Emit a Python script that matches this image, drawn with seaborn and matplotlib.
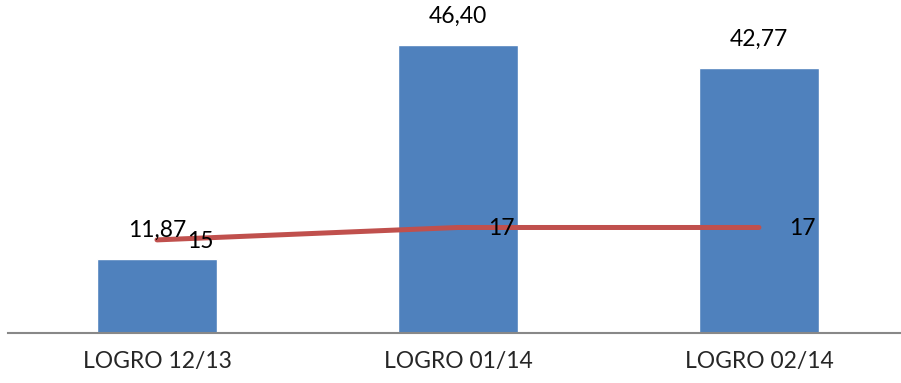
import matplotlib
matplotlib.use("Agg")
import matplotlib.pyplot as plt
import seaborn as sns
import pandas as pd

categories = ["LOGRO 12/13", "LOGRO 01/14", "LOGRO 02/14"]
logro = [11.87, 46.40, 42.77]
meta = [15, 17, 17]
logro_labels = ["11,87", "46,40", "42,77"]
meta_labels = ["15", "17", "17"]

sns.set_theme(style="white")
plt.rcParams["font.family"] = ["Lato", "DejaVu Sans"]

df = pd.DataFrame({"cat": categories, "logro": logro, "meta": meta, "pos": range(len(categories))})

fig = plt.figure(figsize=(9.01, 3.83), dpi=100)
ax = fig.add_axes([8 / 901, 50 / 383, 893 / 901, 333 / 383])

sns.barplot(data=df, x="cat", y="logro", color="#4F81BD", saturation=1, width=0.4, ax=ax, zorder=2)
sns.lineplot(data=df, x="pos", y="meta", color="#C0504D", linewidth=3.6, ax=ax, zorder=3,
             solid_capstyle="round")

for i, (v, t) in enumerate(zip(logro, logro_labels)):
    ax.annotate(t, (i, v), xytext=(0, 13), textcoords="offset points",
                ha="center", va="bottom", fontsize=16.5, color="black")
for i, (v, t) in enumerate(zip(meta, meta_labels)):
    ax.annotate(t, (i, v), xytext=(22, -1), textcoords="offset points",
                ha="left", va="center", fontsize=16.5, color="black", zorder=4)

ax.set_xlim(-0.495, 2.472)
ax.set_ylim(0, 53.65)
ax.set_xlabel("")
ax.set_ylabel("")
ax.set_yticks([])
ax.tick_params(axis="x", length=0, labelsize=16.5, pad=13)
for s in ["top", "right", "left"]:
    ax.spines[s].set_visible(False)
ax.spines["bottom"].set_color("#888888")
ax.spines["bottom"].set_linewidth(1.5)

fig.savefig("out.png", dpi=100)
